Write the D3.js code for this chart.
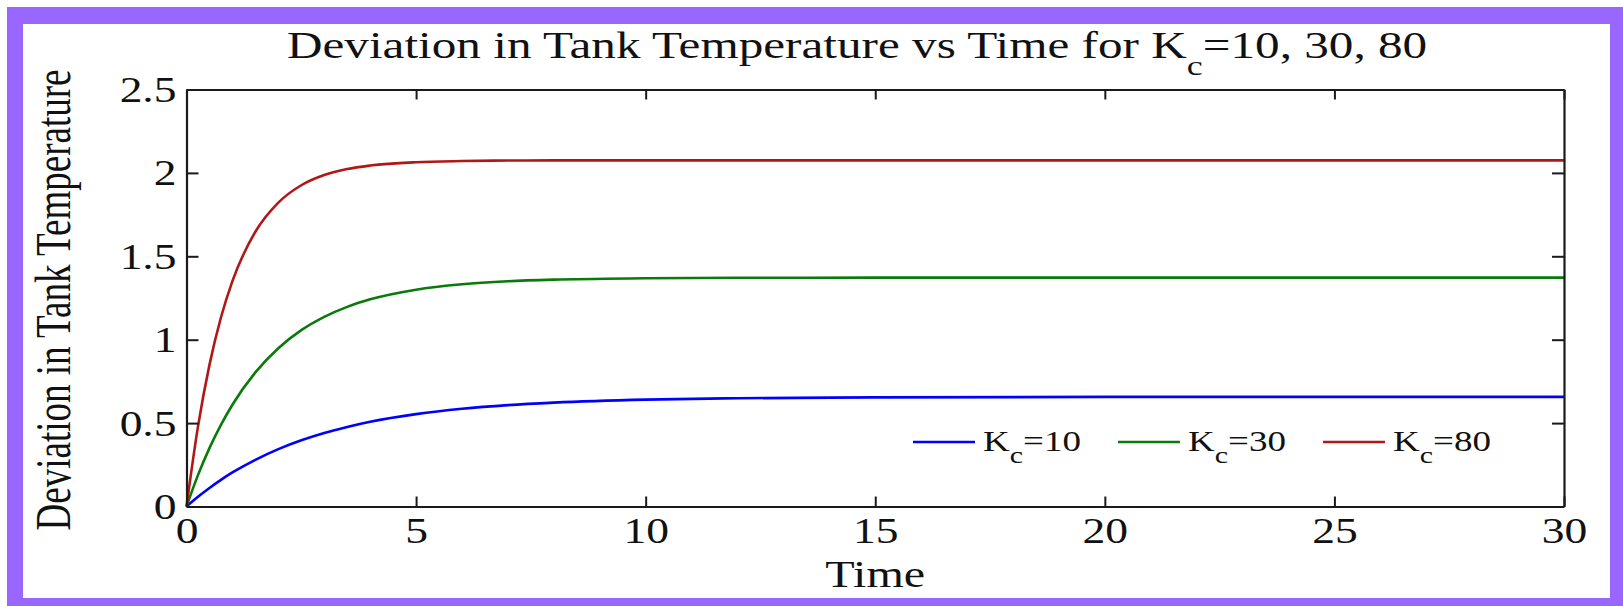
<!DOCTYPE html>
<html>
<head>
<meta charset="utf-8">
<script src="https://cdn.jsdelivr.net/npm/d3@7"></script>
<style>
  html, body { margin: 0; padding: 0; background: #ffffff; }
  svg { display: block; }
  text { font-family: "Liberation Serif", "Times New Roman", serif; fill: #111; }
</style>
</head>
<body>
<svg id="chart" width="1623" height="606"></svg>
<script>
// ---- data ----
const times = [0, 0.25, 0.5, 0.75, 1, 1.5, 2, 2.5, 3, 3.5, 4, 5, 6, 7, 8, 10, 12, 15, 20, 25, 30];
const kc10 = [0, 0.058, 0.111, 0.160, 0.204, 0.280, 0.344, 0.397, 0.441, 0.477, 0.508, 0.554, 0.586, 0.608, 0.623, 0.641, 0.649, 0.654, 0.657, 0.657, 0.657];
const kc30 = [0, 0.188, 0.350, 0.489, 0.610, 0.804, 0.949, 1.057, 1.137, 1.197, 1.242, 1.300, 1.332, 1.350, 1.360, 1.368, 1.371, 1.372, 1.372, 1.372, 1.372];
const kc80 = [0, 0.479, 0.849, 1.133, 1.351, 1.647, 1.822, 1.926, 1.987, 2.023, 2.044, 2.064, 2.071, 2.074, 2.075, 2.075, 2.075, 2.075, 2.075, 2.075, 2.075];
const seriesNames = ["10", "30", "80"];
const seriesColors = ["#0000ff", "#0a7a0a", "#b01818"];
const xTicks = [0, 5, 10, 15, 20, 25, 30];
const yTicks = [0, 0.5, 1, 1.5, 2, 2.5];
const yTickLabels = ["0", "0.5", "1", "1.5", "2", "2.5"];

const SX = 1.3; // horizontal stretch of all lettering in the reference

const svg = d3.select("#chart");

// frame
svg.append("rect").attr("x", 7).attr("y", 7).attr("width", 1616).attr("height", 599).attr("fill", "#9966ff");
svg.append("rect").attr("x", 23).attr("y", 24).attr("width", 1587).attr("height", 574).attr("fill", "#ffffff");

const L = 186.5, R = 1564, T = 89.5, B = 506.5;
const x = d3.scaleLinear().domain([0, 30]).range([L, R]);
const y = d3.scaleLinear().domain([0, 2.5]).range([B, T]);

const g = svg.append("g");

// lines
const allSeries = [kc10, kc30, kc80];
const line = d3.line()
  .x((d, i) => x(times[i]))
  .y(d => y(d))
  .curve(d3.curveMonotoneX);
allSeries.forEach((s, k) => {
  g.append("path").datum(s)
    .attr("d", line)
    .attr("fill", "none")
    .attr("stroke", seriesColors[k])
    .attr("stroke-width", 2.6);
});

// axes
function styleAxis(sel) {
  sel.selectAll("path.domain").attr("stroke", "#1a1a1a").attr("stroke-width", 2.2);
  sel.selectAll(".tick line").attr("stroke", "#1a1a1a").attr("stroke-width", 2);
}
const xAxis = g.append("g").attr("transform", `translate(0,${B})`)
  .call(d3.axisBottom(x).tickValues(xTicks).tickFormat(d3.format("d")).tickSizeInner(-10).tickSizeOuter(0).tickPadding(0));
xAxis.selectAll(".tick text")
  .attr("y", 0).attr("dy", 0)
  .attr("transform", `translate(0,36) scale(${SX},1)`)
  .attr("font-size", 35).attr("fill", "#111");
styleAxis(xAxis);

const xTop = g.append("g").attr("transform", `translate(0,${T})`)
  .call(d3.axisTop(x).tickValues(xTicks).tickFormat("").tickSizeInner(-10).tickSizeOuter(0));
styleAxis(xTop);

const yAxis = g.append("g").attr("transform", `translate(${L},0)`)
  .call(d3.axisLeft(y).tickValues(yTicks).tickFormat((d, i) => yTickLabels[i]).tickSizeInner(-12).tickSizeOuter(0).tickPadding(0));
yAxis.selectAll(".tick text")
  .attr("x", 0).attr("dy", "0.34em")
  .attr("transform", `translate(-10,0) scale(${SX},1)`)
  .attr("font-size", 35).attr("fill", "#111");
styleAxis(yAxis);

const yRight = g.append("g").attr("transform", `translate(${R},0)`)
  .call(d3.axisRight(y).tickValues(yTicks).tickFormat("").tickSizeInner(-12).tickSizeOuter(0));
styleAxis(yRight);

svg.selectAll(".tick text").attr("font-family", "Liberation Serif, Times New Roman, serif");

// title
const title = svg.append("text")
  .attr("transform", `translate(287,58) scale(1.33,1)`)
  .attr("font-size", 37);
title.append("tspan").text("Deviation in Tank Temperature vs Time for K");
title.append("tspan").attr("font-size", 27).attr("dy", 17).text("c");
title.append("tspan").attr("dy", -17).text("=10, 30, 80");

// x label
svg.append("text")
  .attr("transform", `translate(${(L + R) / 2},587) scale(${SX},1)`)
  .attr("text-anchor", "middle")
  .attr("font-size", 37)
  .text("Time");

// y label
svg.append("text")
  .attr("transform", `translate(70,${(T + B) / 2 + 2}) scale(1.38,1) rotate(-90)`)
  .attr("text-anchor", "middle")
  .attr("font-size", 37)
  .text("Deviation in Tank Temperature");

// legend
const legX0 = 913, legStep = 205, legY = 442;
seriesNames.forEach((n, k) => {
  const lx = legX0 + k * legStep;
  svg.append("line")
    .attr("x1", lx).attr("x2", lx + 62)
    .attr("y1", legY).attr("y2", legY)
    .attr("stroke", seriesColors[k]).attr("stroke-width", 2.6);
  const t = svg.append("text")
    .attr("transform", `translate(${lx + 70},${legY + 9}) scale(${SX},1)`)
    .attr("font-size", 28.5);
  t.append("tspan").text("K");
  t.append("tspan").attr("font-size", 23).attr("dy", 12).text("c");
  t.append("tspan").attr("dy", -12).text("=" + n);
});
</script>
</body>
</html>
